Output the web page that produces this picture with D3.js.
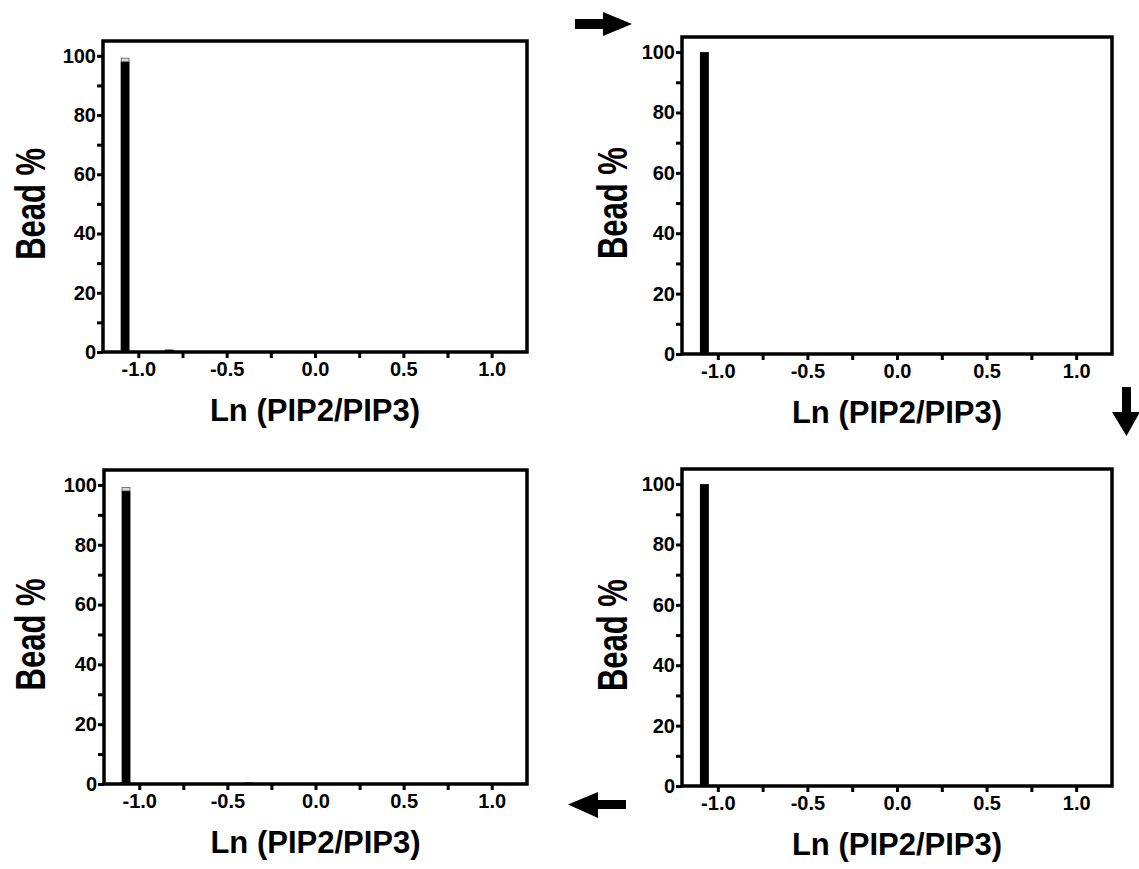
<!DOCTYPE html>
<html>
<head>
<meta charset="utf-8">
<script src="https://cdn.jsdelivr.net/npm/d3@7"></script>
<style>
  html, body { margin: 0; padding: 0; background: #fff; }
  svg { display: block; }
  text { font-family: "Liberation Sans", Arial, sans-serif; font-weight: bold; fill: #000; }
</style>
</head>
<body>
<svg id="chart" width="1139" height="869"></svg>
<script>
// ---- data ----
const xTickValues = [-1.0, -0.5, 0.0, 0.5, 1.0];
const xTickLabels = ["-1.0", "-0.5", "0.0", "0.5", "1.0"];
const xMinorTicks = [-0.75, -0.25, 0.25, 0.75];
const yTickValues = [0, 20, 40, 60, 80, 100];
const yTickLabels = ["0", "20", "40", "60", "80", "100"];
const yMinorTicks = [10, 30, 50, 70, 90];
const xDomain = [-1.2, 1.2];
const yDomain = [0, 105];
const binWidth = 0.05;
const xTitle = "Ln (PIP2/PIP3)";
const yTitle = "Bead %";

// one set of bins per panel
const panelTopLeftBins = [-1.075, -0.825];
const panelTopLeftValues = [98, 0.8];
const panelTopLeftErrors = [1.2, 0];

const panelTopRightBins = [-1.075];
const panelTopRightValues = [100];
const panelTopRightErrors = [0];

const panelBottomLeftBins = [-1.075, -0.375];
const panelBottomLeftValues = [98, 0.5];
const panelBottomLeftErrors = [1.2, 0];

const panelBottomRightBins = [-1.075];
const panelBottomRightValues = [100];
const panelBottomRightErrors = [0];

// ---- layout ----
const panels = [
  { bins: panelTopLeftBins, values: panelTopLeftValues, errors: panelTopLeftErrors, x0: 103, x1: 527, y0: 41, y1: 352, titleX: 45 },
  { bins: panelTopRightBins, values: panelTopRightValues, errors: panelTopRightErrors, x0: 682, x1: 1112, y0: 37, y1: 354, titleX: 627 },
  { bins: panelBottomLeftBins, values: panelBottomLeftValues, errors: panelBottomLeftErrors, x0: 104, x1: 527, y0: 470, y1: 784, titleX: 45 },
  { bins: panelBottomRightBins, values: panelBottomRightValues, errors: panelBottomRightErrors, x0: 682, x1: 1112, y0: 469, y1: 786, titleX: 627 }
];

const svg = d3.select("#chart");
const tickFont = 20;

panels.forEach(p => {
  const x = d3.scaleLinear().domain(xDomain).range([p.x0, p.x1]);
  const y = d3.scaleLinear().domain(yDomain).range([p.y1, p.y0]);
  const g = svg.append("g");

  // bars
  const data = p.bins.map((b, i) => ({ b, v: p.values[i], e: p.errors[i] }));
  g.selectAll("rect.bar").data(data).enter().append("rect")
    .attr("class", "bar")
    .attr("x", d => x(d.b - binWidth / 2))
    .attr("width", d => x(d.b + binWidth / 2) - x(d.b - binWidth / 2))
    .attr("y", d => y(d.v))
    .attr("height", d => y(0) - y(d.v))
    .attr("fill", "#000");
  // error caps (light grey)
  g.selectAll("rect.err").data(data.filter(d => d.e > 0)).enter().append("rect")
    .attr("class", "err")
    .attr("x", d => x(d.b - binWidth / 2) + 0.5)
    .attr("width", d => x(d.b + binWidth / 2) - x(d.b - binWidth / 2) - 1)
    .attr("y", d => y(d.v + d.e))
    .attr("height", d => y(d.v) - y(d.v + d.e))
    .attr("fill", "#d8d8d8")
    .attr("stroke", "#555")
    .attr("stroke-width", 0.8);

  // axes
  const xAxis = d3.axisBottom(x).tickValues(xTickValues)
    .tickFormat((d, i) => xTickLabels[i]).tickSize(6).tickPadding(4);
  const xAx = g.append("g").attr("transform", `translate(0,${p.y1})`).call(xAxis)
    .attr("font-size", tickFont).attr("font-family", null);
  xAx.select(".domain").remove();
  xAx.selectAll("line").attr("stroke", "#000").attr("stroke-width", 3);
  xAx.selectAll("text").attr("font-size", tickFont).style("font-size", tickFont + "px");

  const xMinor = d3.axisBottom(x).tickValues(xMinorTicks).tickFormat("").tickSize(6);
  const xMi = g.append("g").attr("transform", `translate(0,${p.y1})`).call(xMinor);
  xMi.select(".domain").remove();
  xMi.selectAll("line").attr("stroke", "#000").attr("stroke-width", 3);

  const yAxis = d3.axisLeft(y).tickValues(yTickValues)
    .tickFormat((d, i) => yTickLabels[i]).tickSize(6).tickPadding(1);
  const yAx = g.append("g").attr("transform", `translate(${p.x0},0)`).call(yAxis)
    .attr("font-size", tickFont).attr("font-family", null);
  yAx.select(".domain").remove();
  yAx.selectAll("line").attr("stroke", "#000").attr("stroke-width", 3);
  yAx.selectAll("text").attr("font-size", tickFont).style("font-size", tickFont + "px");

  const yMinor = d3.axisLeft(y).tickValues(yMinorTicks).tickFormat("").tickSize(6);
  const yMi = g.append("g").attr("transform", `translate(${p.x0},0)`).call(yMinor);
  yMi.select(".domain").remove();
  yMi.selectAll("line").attr("stroke", "#000").attr("stroke-width", 3);

  // frame
  g.append("rect")
    .attr("x", p.x0).attr("y", p.y0)
    .attr("width", p.x1 - p.x0).attr("height", p.y1 - p.y0)
    .attr("fill", "none").attr("stroke", "#000").attr("stroke-width", 3.5);

  // titles
  g.append("text")
    .attr("x", (p.x0 + p.x1) / 2).attr("y", p.y1 + 69)
    .attr("text-anchor", "middle").style("font-size", "31px")
    .text(xTitle);
  g.append("text")
    .attr("transform", `translate(${p.titleX},${y(50)}) rotate(-90) scale(1,1.35)`)
    .attr("text-anchor", "middle").style("font-size", "31px")
    .text(yTitle);
});

// ---- arrows between panels ----
function arrow(path) {
  svg.append("path").attr("d", path).attr("fill", "#000");
}
// right arrow (top)
arrow("M575,19 L603,19 L603,12 L632,24 L603,36 L603,29 L575,29 Z");
// down arrow (right)
arrow("M1122,387 L1131,387 L1131,412 L1140,412 L1126.5,436 L1112,412 L1122,412 Z");
// left arrow (bottom)
arrow("M626,800 L598,800 L598,792 L568,804.5 L598,818 L598,809 L626,809 Z");
</script>
</body>
</html>
